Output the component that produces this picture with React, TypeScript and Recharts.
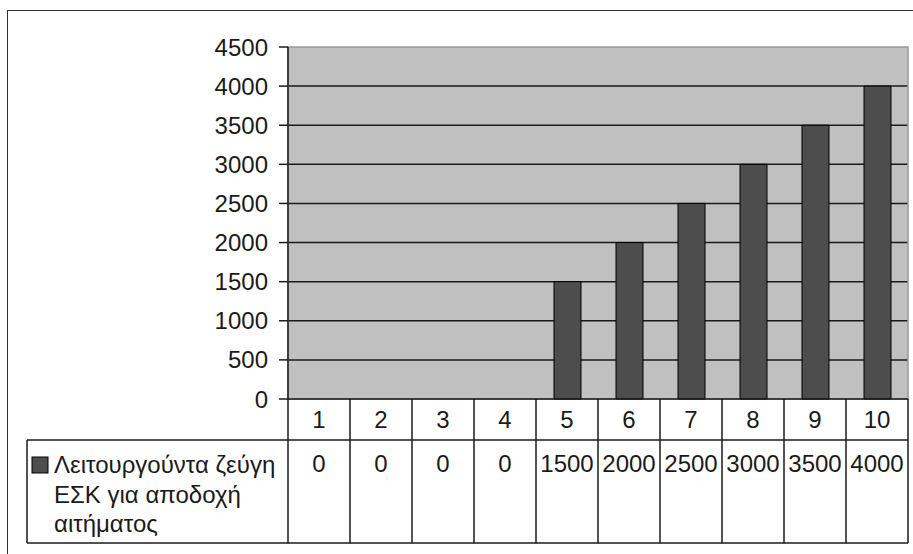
import React from 'react';
import { BarChart, Bar, XAxis, YAxis, CartesianGrid, ReferenceArea } from 'recharts';

const categories = ['1', '2', '3', '4', '5', '6', '7', '8', '9', '10'];
const values = [0, 0, 0, 0, 1500, 2000, 2500, 3000, 3500, 4000];
const yTicks = [0, 500, 1000, 1500, 2000, 2500, 3000, 3500, 4000, 4500];
const gridValues = [500, 1000, 1500, 2000, 2500, 3000, 3500, 4000];
const seriesNameLines = ['Λειτουργούντα ζεύγη', 'ΕΣΚ για αποδοχή', 'αιτήματος'];

const data = categories.map((c, i) => ({ cat: c, value: values[i] }));

const W = 913;
const H = 554;
const PLOT_LEFT = 288;
const PLOT_RIGHT = 908;
const PLOT_BOTTOM = 399;
const ROW1_BOTTOM = 440;
const TABLE_BOTTOM = 543;
const TABLE_LEFT = 27;
const FONT = '"Liberation Sans", Arial, sans-serif';
const LINE = '#1a1a1a';
const TEXT = '#1a1a1a';
const FS = 24;

function TableTick(props: any) {
  const { x, payload, index } = props;
  const fallback = (PLOT_RIGHT - PLOT_LEFT) / categories.length / 2;
  const half = typeof payload?.offset === 'number' && payload.offset > 0 ? payload.offset : fallback;
  const left = x - half;
  const right = x + half;
  const last = index === categories.length - 1;
  return (
    <g>
      {index === 0 && (
        <g>
          <line x1={TABLE_LEFT} x2={PLOT_RIGHT} y1={ROW1_BOTTOM} y2={ROW1_BOTTOM} stroke={LINE} strokeWidth={1.5} />
          <line x1={TABLE_LEFT} x2={PLOT_RIGHT} y1={TABLE_BOTTOM} y2={TABLE_BOTTOM} stroke={LINE} strokeWidth={1.5} />
          <line x1={TABLE_LEFT} x2={TABLE_LEFT} y1={ROW1_BOTTOM} y2={TABLE_BOTTOM} stroke={LINE} strokeWidth={1.5} />
          <rect x={32} y={457} width={16} height={16} fill="#4d4d4d" stroke="#000" strokeWidth={1} />
          {seriesNameLines.map((t, i) => (
            <text key={i} x={54} y={473 + i * 29.5} fontSize={FS} fontFamily={FONT} fill={TEXT}>
              {t}
            </text>
          ))}
        </g>
      )}
      <line x1={left} x2={left} y1={PLOT_BOTTOM} y2={TABLE_BOTTOM} stroke={LINE} strokeWidth={1.5} />
      {last && <line x1={right} x2={right} y1={PLOT_BOTTOM} y2={TABLE_BOTTOM} stroke={LINE} strokeWidth={1.5} />}
      <text x={x} y={428} textAnchor="middle" fontSize={FS} fontFamily={FONT} fill={TEXT}>
        {payload.value}
      </text>
      <text x={x} y={472} textAnchor="middle" fontSize={FS} fontFamily={FONT} fill={TEXT}>
        {values[index]}
      </text>
    </g>
  );
}

export default function App() {
  return (
    <div style={{ position: 'absolute', left: 0, top: 0, width: W, height: H, overflow: 'hidden', background: '#fff' }}>
      <div
        style={{
          position: 'absolute',
          left: 7,
          top: 10,
          width: W + 50,
          height: H + 50,
          borderTop: '1.5px solid #333',
          borderLeft: '1.5px solid #333',
        }}
      />
      <div style={{ position: 'absolute', left: 0, top: 0 }}>
        <BarChart width={W} height={H} data={data} margin={{ top: 47, right: W - PLOT_RIGHT, bottom: H - TABLE_BOTTOM, left: PLOT_LEFT - 60 }}>
          <CartesianGrid vertical={false} horizontalValues={gridValues} stroke={LINE} strokeWidth={1.5} fill="#c0c0c0" fillOpacity={1} />
          <ReferenceArea y1={0} y2={4500} fill="none" stroke="#999" strokeWidth={1.5} />
          <XAxis
            dataKey="cat"
            height={TABLE_BOTTOM - PLOT_BOTTOM}
            interval={0}
            tickLine={false}
            axisLine={{ stroke: LINE, strokeWidth: 1.5 }}
            tick={<TableTick />}
          />
          <YAxis
            width={60}
            domain={[0, 4500]}
            ticks={yTicks}
            interval={0}
            tickSize={9}
            tickMargin={11}
            axisLine={{ stroke: LINE, strokeWidth: 1.5 }}
            tickLine={{ stroke: LINE, strokeWidth: 1.5 }}
            tick={{ fill: TEXT, fontSize: FS, fontFamily: FONT }}
          />
          <Bar dataKey="value" fill="#4d4d4d" stroke="#000" strokeWidth={1} barSize={27} isAnimationActive={false} />
        </BarChart>
      </div>
    </div>
  );
}
